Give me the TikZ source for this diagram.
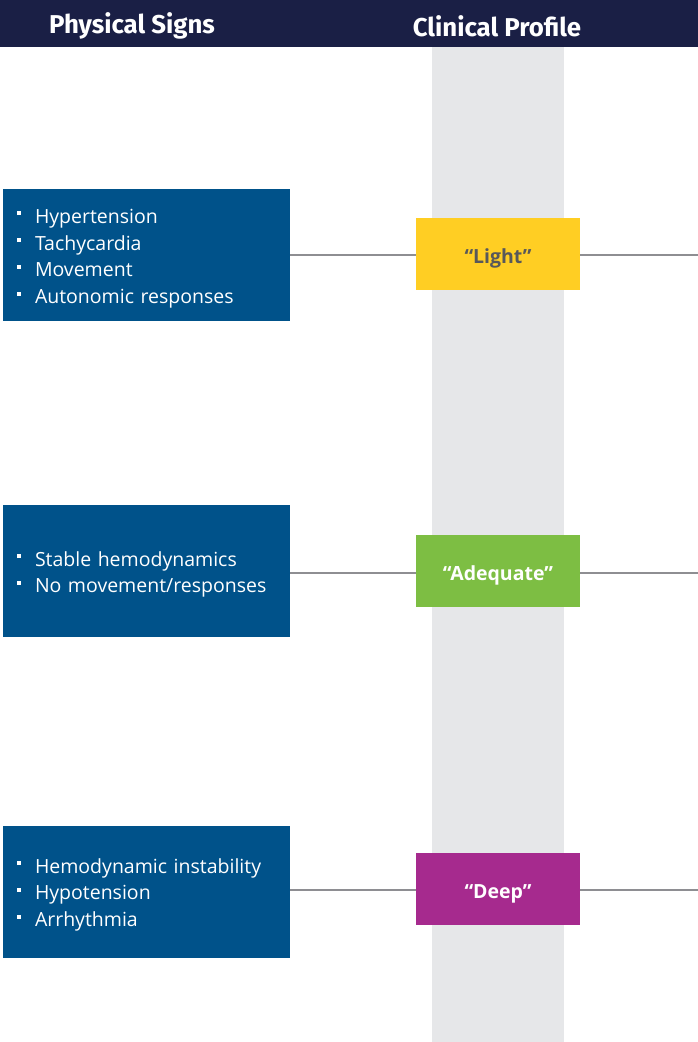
\documentclass[tikz,border=0pt]{standalone}
\usepackage{fontspec}
\setmainfont{Open Sans}
\newfontfamily\headfont{Fira Sans}
\usetikzlibrary{positioning}
\definecolor{headnavy}{HTML}{1A1F45}
\definecolor{signblue}{HTML}{00528A}
\definecolor{colgrey}{HTML}{E6E7E9}
\definecolor{lightyellow}{HTML}{FFCE23}
\definecolor{adequategreen}{HTML}{7DBE43}
\definecolor{deeppurple}{HTML}{A62A8E}
\definecolor{linegrey}{HTML}{8E8E92}
\definecolor{textgrey}{HTML}{58585A}
\newcommand{\sq}{\rule{0pt}{21.5pt}\makebox[18pt][l]{\raisebox{8pt}{\rule{4pt}{4pt}}}}

\begin{document}
\begin{tikzpicture}[x=1pt, y=-1pt,
  signbox/.style={fill=signblue, text=white, minimum width=287pt, minimum height=132pt, inner xsep=14pt, text width=259pt, align=left, font=\fontsize{19.5}{26.8}\selectfont},
  profbox/.style={minimum width=164pt, minimum height=72pt, text height=18pt, text depth=0pt, font=\fontsize{19.5}{22}\selectfont\bfseries},
  link/.style={draw=linegrey, line width=2pt}]
\useasboundingbox (0,0) rectangle (698,1042);
\fill[headnavy] (0,0) rectangle (698,47);
\fill[colgrey] (432,47) rectangle (564,1042);
\node [text=white, font=\headfont\fontsize{25.8}{30}\selectfont\bfseries] (h1) at (132,26) {Physical Signs};
\node [text=white, font=\headfont\fontsize{25.8}{30}\selectfont\bfseries] (h2) at (497,26) {Clinical Profile};

\node [signbox] (s1) at (146.5,255) {\sq Hypertension\\ \sq Tachycardia\\ \sq Movement\\ \sq Autonomic responses};
\node [signbox] (s2) at (146.5,571) {\sq Stable hemodynamics\\ \sq No movement/responses};
\node [signbox] (s3) at (146.5,891.5) {\sq Hemodynamic instability\\ \sq Hypotension\\ \sq Arrhythmia};

\node [profbox, fill=lightyellow, text=textgrey] (p1) at (498,254) {“Light”};
\node [profbox, fill=adequategreen, text=white] (p2) at (498,571) {“Adequate”};
\node [profbox, fill=deeppurple, text=white] (p3) at (498,889) {“Deep”};

\coordinate (e1) at (698,255);
\coordinate (e2) at (698,573);
\coordinate (e3) at (698,890);

\draw[link] (s1.east |- e1) -- (p1.west |- e1); 
\draw[link] (p1.east |- e1) -- (e1);
\draw[link] (s2.east |- e2) -- (p2.west |- e2);
\draw[link] (p2.east |- e2) -- (e2);
\draw[link] (s3.east |- e3) -- (p3.west |- e3);
\draw[link] (p3.east |- e3) -- (e3);
\end{tikzpicture}
\end{document}
